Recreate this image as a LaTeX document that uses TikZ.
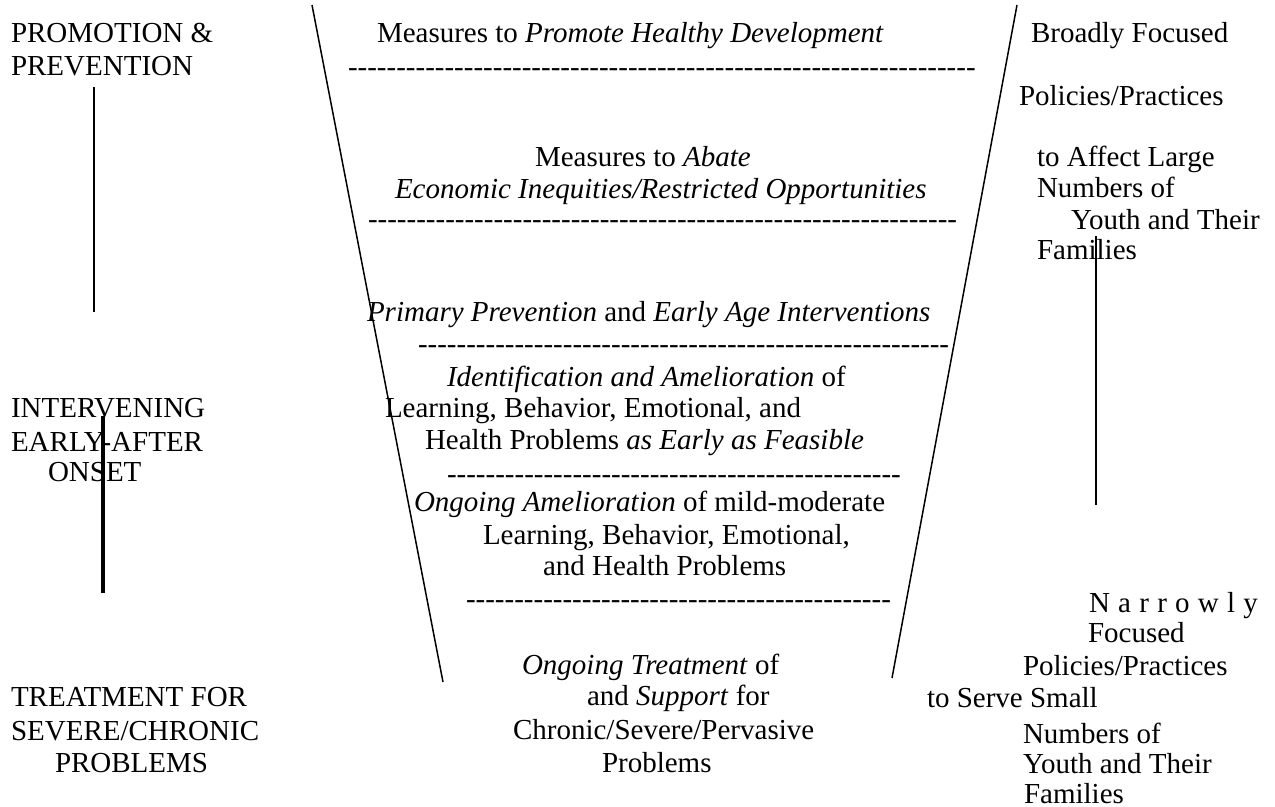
\documentclass[tikz,border=0pt]{standalone}
\usepackage{fontspec}
\setmainfont{Liberation Serif}
\newcommand\hyrow[1]{\foreach \k in {1,...,#1}{\hbox{-}}}
\begin{document}
\begin{tikzpicture}[x=0.5pt,y=-0.5pt,
  lbl/.style={anchor=base west,inner sep=0pt,outer sep=0pt,font=\fontsize{14.5pt}{16pt}\selectfont},
  funnel/.style={line width=0.75pt},
  bar/.style={line width=1pt},
  thickbar/.style={line width=2pt}]
\useasboundingbox (0,0) rectangle (1275,807);
% left column
\node[lbl] (pp1) at (11,43) {PROMOTION \&};
\node[lbl] (pp2) at (11,76) {PREVENTION};
\node[lbl] (ie1) at (11,418) {INTERVENING};
\node[lbl] (ie2) at (11,452) {EARLY-AFTER};
\node[lbl] (ie3) at (48,482) {ONSET};
\node[lbl] (tr1) at (11,706) {TREATMENT FOR};
\node[lbl] (tr2) at (11,740) {SEVERE/CHRONIC};
\node[lbl] (tr3) at (55,772) {PROBLEMS};
% right column
\node[lbl] (b1) at (1031,43) {Broadly Focused};
\node[lbl] (b2) at (1019,106) {Policies/Practices};
\node[lbl] (b3) at (1037,167) {to Affect Large};
\node[lbl] (b4) at (1037,198) {Numbers of};
\node[lbl] (b5) at (1071,230) {Youth and Their};
\node[lbl] (b6) at (1037,260) {Families};
\node[lbl] (n1) at (1089,612) {\makebox[84.5pt][s]{N a r r o w l y}};
\node[lbl] (n2) at (1088,642) {Focused};
\node[lbl] (n3) at (1023,675) {Policies/Practices};
\node[lbl] (n4) at (927,707) {to Serve Small};
\node[lbl] (n5) at (1023,743) {Numbers of};
\node[lbl] (n6) at (1023,773) {Youth and Their};
\node[lbl] (n7) at (1024,803) {Families};
% centre
\node[lbl] (c1) at (377,43) {Measures to \textit{Promote Healthy Development}};
\node[lbl] (d1) at (348,77) {\hyrow{65}};
\node[lbl] (c2) at (535,167) {Measures to \textit{Abate}};
\node[lbl] (c3) at (395,199) {\textit{Economic Inequities/Restricted Opportunities}};
\node[lbl] (d2) at (368,229) {\hyrow{61}};
\node[lbl] (c4) at (367,322) {\textit{Primary Prevention} and \textit{Early Age Interventions}};
\node[lbl] (d3) at (418,354) {\hyrow{55}};
\node[lbl] (c5) at (447,387) {\textit{Identification and Amelioration} of};
\node[lbl] (c6) at (385,418) {Learning, Behavior, Emotional, and};
\node[lbl] (c7) at (425,450) {Health Problems \textit{as Early as Feasible}};
\node[lbl] (d4) at (447,484) {\hyrow{47}};
\node[lbl] (c8) at (414,512) {\textit{Ongoing Amelioration} of mild-moderate};
\node[lbl] (c9) at (483,545) {Learning, Behavior, Emotional,};
\node[lbl] (c10) at (543,575) {and Health Problems};
\node[lbl] (d5) at (466,609) {\hyrow{44}};
\node[lbl] (c11) at (522,674) {\textit{Ongoing Treatment} of};
\node[lbl] (c12) at (587,705) {and \textit{Support} for};
\node[lbl] (c13) at (513,739) {Chronic/Severe/Pervasive};
\node[lbl] (c14) at (602,772) {Problems};
% lines
\coordinate (fl1) at (312,5);
\coordinate (fl2) at (443,682);
\coordinate (fr1) at (1017,5);
\coordinate (fr2) at (892,678);
\coordinate (v1a) at (94,87);
\coordinate (v1b) at (94,312);
\coordinate (v2a) at (103,416);
\coordinate (v2b) at (103,593);
\coordinate (v3a) at (1096,236);
\coordinate (v3b) at (1096,505);
\draw[funnel] (fl1) -- (fl2);
\draw[funnel] (fr1) -- (fr2);
\draw[bar] (v1a) -- (v1b);
\draw[thickbar] (v2a) -- (v2b);
\draw[bar] (v3a) -- (v3b);
\end{tikzpicture}
\end{document}
